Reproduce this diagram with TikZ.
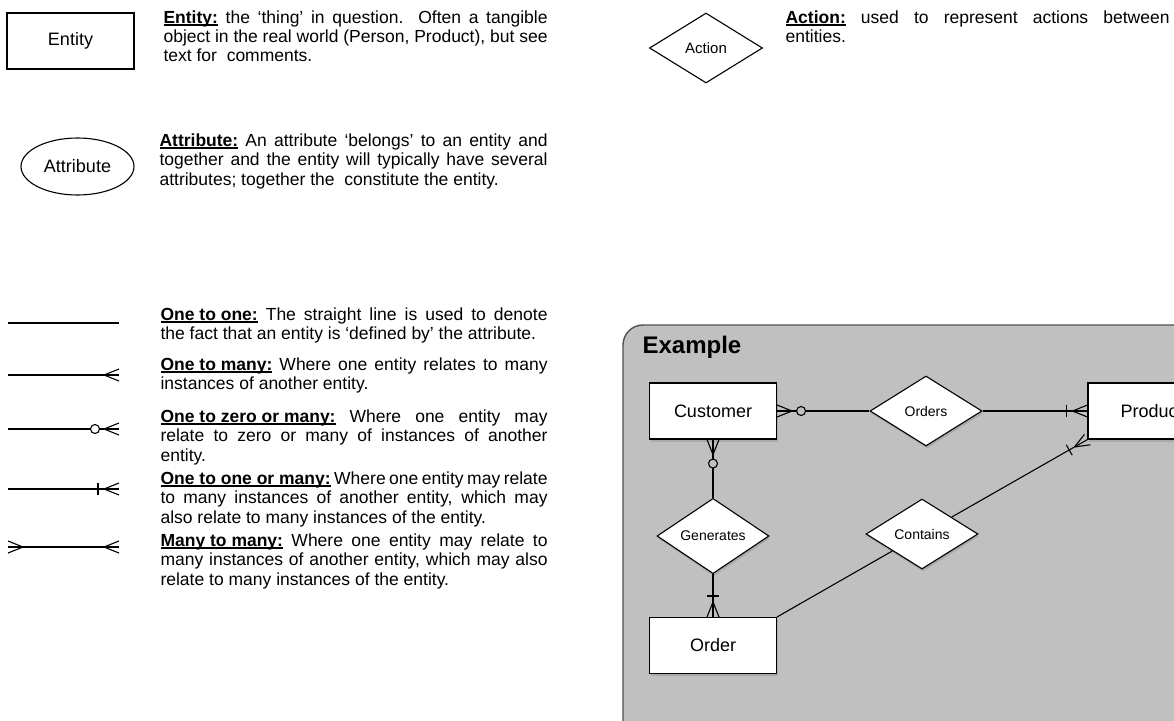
\documentclass[tikz,border=0pt]{standalone}
\usepackage{fontspec}
\setmainfont{Liberation Sans}
\usetikzlibrary{shapes.geometric,shadows,decorations.markings}

\definecolor{boxgray}{RGB}{192,192,192}
\definecolor{rimgray}{RGB}{80,80,80}

\newsavebox{\termbox}
\newcommand{\term}[1]{\sbox{\termbox}{\textbf{#1}}\rlap{\rule[-2.6pt]{\wd\termbox}{1.2pt}}\usebox{\termbox}}

\begin{document}
\begin{tikzpicture}[x=1pt, y=1pt, line width=1.1pt]
    \tikzstyle{entity}=[draw, rectangle, fill=white, minimum width=127pt, minimum height=56pt, inner sep=0pt, font=\fontsize{18}{20}\selectfont]
    \tikzstyle{attribute}=[draw, ellipse, minimum width=113pt, minimum height=57pt, inner sep=0pt, font=\fontsize{18}{20}\selectfont]
    \tikzstyle{relation}=[draw, diamond, fill=white, minimum width=112pt, minimum height=70pt, inner sep=0pt, font=\fontsize{14}{16}\selectfont]
    \tikzstyle{shadowed}=[drop shadow={shadow xshift=1pt, shadow yshift=-2.5pt, opacity=0.35}]
    \tikzstyle{note}=[anchor=base west, text width=384pt, align=justify, inner sep=0pt, font=\fontsize{17.5}{19.5}\selectfont]

    % crow's foot ends
    \tikzstyle{many end}=[postaction={decorate, decoration={markings, mark=at position 1 with {\draw (-15pt,0pt) -- (0pt,6pt) (-15pt,0pt) -- (0pt,-6pt);}}}]
    \tikzstyle{many start}=[postaction={decorate, decoration={markings, mark=at position 0 with {\draw (15pt,0pt) -- (0pt,6pt) (15pt,0pt) -- (0pt,-6pt);}}}]
    \tikzstyle{one end}=[postaction={decorate, decoration={markings, mark=at position 1 with {\draw (-21pt,-6pt) -- (-21pt,6pt);}}}]
    \tikzstyle{zero end}=[postaction={decorate, decoration={markings, mark=at position 1 with {\draw[fill=white] (-24pt,0pt) circle (4.5pt);}}}]
    \tikzstyle{zero start}=[postaction={decorate, decoration={markings, mark=at position 0 with {\draw[fill=boxgray] (24pt,0pt) circle (4.5pt);}}}]

    \clip (0,0) rectangle (1174,-720);

    % legend: symbols
    \node[entity] (entity) at (70.5,-41) {Entity};
    \node[attribute] (attribute) at (77.5,-166.5) {Attribute};
    \node[relation, minimum width=113pt, font=\fontsize{15}{17}\selectfont] (action) at (706,-48) {Action};

    \node[note] (entitynote) at (163,-23)
        {\term{Entity:} the ‘thing’ in question. Often a tangible\linebreak
         object in the real world (Person, Product), but see\linebreak
         text for \ comments.};
    \node[note, text width=388pt] (attributenote) at (159,-146)
        {\term{Attribute:} An attribute ‘belongs’ to an entity and\linebreak
         together and the entity will typically have several\linebreak
         attributes; together the \ constitute the entity.};
    \node[note] (actionnote) at (785,-23)
        {\term{Action:} used to represent actions between\linebreak
         entities.};

    % legend: connectors
    \foreach \n/\y in {1/323, 2/375, 3/429, 4/489, 5/547} {
        \coordinate (L\n-a) at (8,-\y);
        \coordinate (L\n-b) at (119,-\y);
    }
    \draw (L1-a) -- (L1-b);
    \draw[many end] (L2-a) -- (L2-b);
    \draw[zero end, many end] (L3-a) -- (L3-b);
    \draw[one end, many end] (L4-a) -- (L4-b);
    \draw[many start, many end] (L5-a) -- (L5-b);

    \node[note, text width=387pt] (onetoone) at (160,-320)
        {\term{One to one:} The straight line is used to denote\linebreak
         the fact that an entity is ‘defined by’ the attribute.};
    \node[note, text width=387pt] (onetomany) at (160,-370)
        {\term{One to many:} Where one entity relates to many\linebreak
         instances of another entity.};
    \node[note, text width=387pt] (zeroormany) at (160,-422)
        {\term{One to zero or many:} Where one entity may\linebreak
         relate to zero or many of instances of another\linebreak
         entity.};
    \node[note, text width=387pt] (oneormany) at (160,-484)
        {\term{One to one or many:} Where one entity may relate\linebreak
         to many instances of another entity, which may\linebreak
         also relate to many instances of the entity.};
    \node[note, text width=387pt] (manytomany) at (160,-546)
        {\term{Many to many:} Where one entity may relate to\linebreak
         many instances of another entity, which may also\linebreak
         relate to many instances of the entity.};

    % example
    \draw[draw=rimgray, fill=boxgray, line width=1.4pt, rounded corners=20pt] (623,-325) rectangle (1240,-790);
    \node[anchor=base west, inner sep=0pt, font=\bfseries\fontsize{24}{28}\selectfont] (extitle) at (642,-353) {Example};

    \node[entity, shadowed] (customer) at (713,-411) {Customer};
    \node[relation, shadowed] (orders) at (926,-411) {Orders};
    \node[entity, shadowed] (product) at (1151.5,-411) {Product};
    \node[relation, shadowed] (generates) at (713,-536) {Generates};
    \node[relation, shadowed] (contains) at (922,-534) {Contains};
    \node[entity, shadowed] (order) at (713,-645.5) {Order};

    \draw[many start, zero start] (customer) -- (orders);
    \draw[one end, many end] (orders) -- (product);
    \draw[many start, zero start] (customer) -- (generates);
    \draw[one end, many end] (generates) -- (order);
    \draw (order.north east) -- (contains);
    \draw[one end, many end] (contains) -- (product.south west);
\end{tikzpicture}
\end{document}
